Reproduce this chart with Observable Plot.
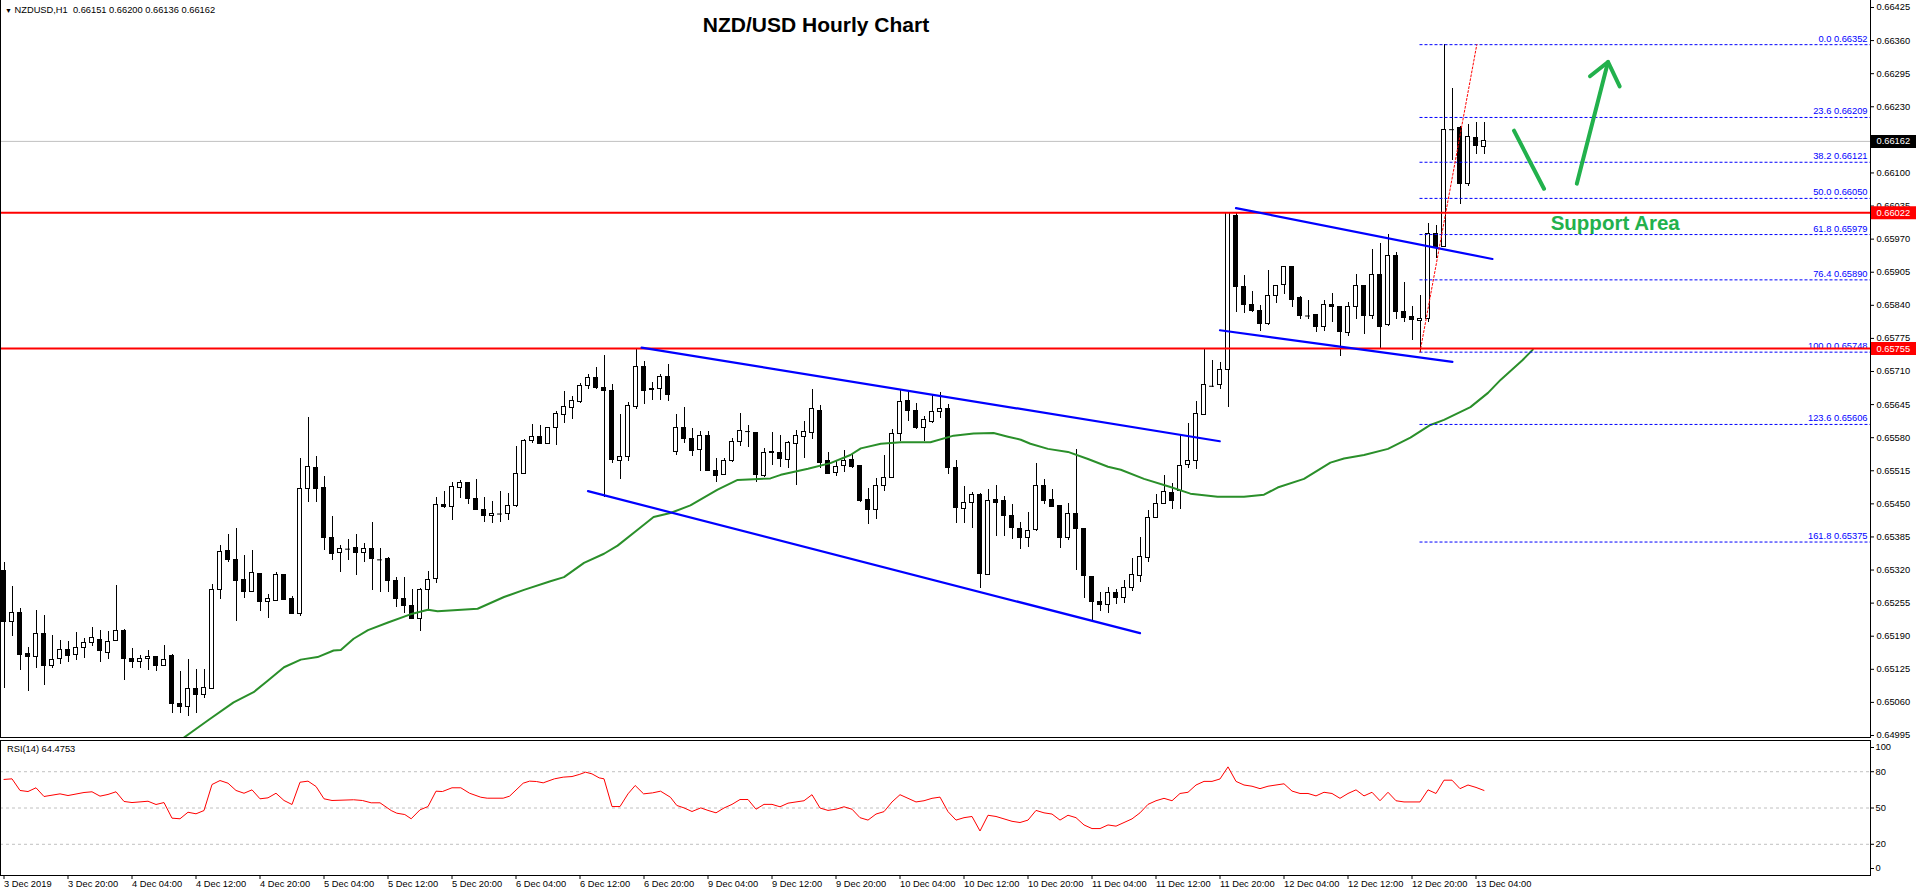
<!DOCTYPE html>
<html><head><meta charset="utf-8">
<script src="https://cdn.jsdelivr.net/npm/d3@7"></script>
<script src="https://cdn.jsdelivr.net/npm/@observablehq/plot@0.6"></script>
<style>
body{margin:0;background:#fff;font-family:"Liberation Sans",Arial,sans-serif;}
#wrap{position:relative;width:1916px;height:896px;overflow:hidden;background:#fff;}
.abs{position:absolute;}
#mainFrame{left:0;top:0;width:1871px;height:738px;box-sizing:border-box;border-left:1px solid #000;border-right:1px solid #000;border-bottom:1px solid #000;pointer-events:none;}
#header{left:5px;top:5px;font-size:9.3px;color:#000;white-space:pre;}
#title{left:0;width:1632px;top:14px;text-align:center;font-size:21px;font-weight:bold;line-height:21px;color:#000;}
#rsiLabel{left:7px;top:744px;font-size:9.3px;color:#000;}
</style></head><body>
<div id="wrap">
  <div id="mainPlot" class="abs" style="left:0;top:0"></div>
  <div id="rsiPlot" class="abs" style="left:0;top:737px"></div>
  <div id="mainFrame" class="abs"></div>
  <div id="header" class="abs"><span style="font-size:7px">▼</span> NZDUSD,H1  0.66151 0.66200 0.66136 0.66162</div>
  <div id="title" class="abs">NZD/USD Hourly Chart</div>
  <div id="rsiLabel" class="abs">RSI(14) 64.4753</div>
</div>
<script>
// ---------- candle data (hourly bars, index 0 = 3 Dec 2019 12:00) ----------
const openP = [
0.65319,0.65218,0.65236,0.65155,0.65149,0.65195,0.65132,0.65145,0.65162,0.65153,
0.65166,0.65176,0.65183,0.65157,0.65181,0.65201,0.65146,0.65139,0.65145,0.65150,
0.65132,0.65152,0.65057,0.65051,0.65087,0.65075,0.65087,0.65281,0.65358,0.65340,
0.65301,0.65276,0.65313,0.65257,0.65260,0.65311,0.65264,0.65234,0.65480,0.65521,
0.65482,0.65383,0.65353,0.65361,0.65364,0.65353,0.65362,0.65340,0.65341,0.65299,
0.65264,0.65249,0.65224,0.65280,0.65302,0.65448,0.65443,0.65482,0.65491,0.65460,
0.65438,0.65426,0.65430,0.65430,0.65445,0.65509,0.65573,0.65582,0.65568,0.65599,
0.65625,0.65638,0.65650,0.65682,0.65698,0.65678,0.65672,0.65535,0.65542,0.65640,
0.65719,0.65676,0.65676,0.65700,0.65552,0.65599,0.65578,0.65556,0.65584,0.65515,
0.65507,0.65534,0.65571,0.65592,0.65590,0.65504,0.65552,0.65550,0.65537,0.65568,
0.65581,0.65590,0.65633,0.65535,0.65510,0.65524,0.65537,0.65525,0.65458,0.65438,
0.65485,0.65500,0.65587,0.65653,0.65633,0.65599,0.65610,0.65631,0.65637,0.65521,
0.65440,0.65452,0.65467,0.65311,0.65458,0.65456,0.65427,0.65401,0.65383,0.65398,
0.65486,0.65457,0.65445,0.65383,0.65430,0.65401,0.65307,0.65258,0.65251,0.65275,
0.65266,0.65285,0.65308,0.65344,0.65422,0.65450,0.65471,0.65475,0.65526,0.65534,
0.65624,0.65681,0.65684,0.65713,0.66015,0.65876,0.65841,0.65829,0.65803,0.65859,
0.65880,0.65915,0.65855,0.65819,0.65820,0.65798,0.65841,0.65836,0.65786,0.65836,
0.65878,0.65819,0.65900,0.65801,0.65936,0.65827,0.65817,0.65809,0.65813,0.65981,
0.65955,0.66185,0.66188,0.66078,0.66168,0.66151];
const highP = [
0.65334,0.65288,0.65244,0.65167,0.65241,0.65231,0.65191,0.65182,0.65180,0.65197,
0.65185,0.65207,0.65201,0.65199,0.65290,0.65203,0.65165,0.65152,0.65162,0.65151,
0.65171,0.65154,0.65121,0.65144,0.65124,0.65124,0.65291,0.65368,0.65390,0.65401,
0.65349,0.65358,0.65314,0.65271,0.65316,0.65311,0.65268,0.65540,0.65619,0.65543,
0.65504,0.65425,0.65368,0.65380,0.65390,0.65372,0.65413,0.65362,0.65345,0.65305,
0.65305,0.65281,0.65283,0.65317,0.65462,0.65474,0.65491,0.65495,0.65491,0.65498,
0.65462,0.65454,0.65474,0.65470,0.65563,0.65576,0.65606,0.65603,0.65599,0.65631,
0.65671,0.65661,0.65686,0.65705,0.65718,0.65741,0.65684,0.65626,0.65649,0.65755,
0.65730,0.65688,0.65704,0.65724,0.65626,0.65639,0.65599,0.65592,0.65592,0.65539,
0.65539,0.65578,0.65627,0.65604,0.65590,0.65558,0.65590,0.65584,0.65573,0.65595,
0.65612,0.65674,0.65643,0.65550,0.65534,0.65555,0.65546,0.65525,0.65480,0.65499,
0.65545,0.65596,0.65673,0.65673,0.65647,0.65622,0.65662,0.65668,0.65645,0.65535,
0.65484,0.65472,0.65470,0.65478,0.65486,0.65464,0.65449,0.65414,0.65434,0.65529,
0.65497,0.65478,0.65445,0.65450,0.65557,0.65401,0.65307,0.65276,0.65286,0.65281,
0.65300,0.65343,0.65384,0.65436,0.65468,0.65506,0.65490,0.65587,0.65608,0.65652,
0.65755,0.65731,0.65727,0.66022,0.66022,0.65899,0.65868,0.65840,0.65908,0.65878,
0.65916,0.65915,0.65857,0.65849,0.65820,0.65849,0.65864,0.65836,0.65845,0.65901,
0.65878,0.65950,0.65961,0.65980,0.65944,0.65884,0.65838,0.65859,0.66001,0.65997,
0.66352,0.66266,0.66192,0.66195,0.66199,0.66200];
const lowP = [
0.65087,0.65189,0.65123,0.65081,0.65127,0.65093,0.65127,0.65134,0.65139,0.65142,
0.65147,0.65170,0.65139,0.65145,0.65180,0.65103,0.65127,0.65127,0.65123,0.65121,
0.65132,0.65039,0.65039,0.65032,0.65039,0.65067,0.65087,0.65262,0.65335,0.65218,
0.65265,0.65276,0.65239,0.65225,0.65259,0.65261,0.65233,0.65229,0.65453,0.65453,
0.65358,0.65339,0.65316,0.65339,0.65309,0.65335,0.65280,0.65275,0.65276,0.65247,
0.65234,0.65224,0.65200,0.65242,0.65293,0.65440,0.65417,0.65461,0.65448,0.65438,
0.65414,0.65411,0.65414,0.65417,0.65443,0.65509,0.65569,0.65567,0.65568,0.65565,
0.65608,0.65616,0.65648,0.65675,0.65674,0.65462,0.65530,0.65498,0.65534,0.65635,
0.65646,0.65653,0.65653,0.65652,0.65545,0.65568,0.65543,0.65514,0.65514,0.65491,
0.65506,0.65532,0.65563,0.65560,0.65491,0.65502,0.65525,0.65522,0.65519,0.65486,
0.65540,0.65576,0.65519,0.65508,0.65504,0.65512,0.65520,0.65453,0.65410,0.65420,
0.65474,0.65500,0.65572,0.65612,0.65597,0.65572,0.65608,0.65618,0.65508,0.65412,
0.65412,0.65402,0.65283,0.65309,0.65385,0.65385,0.65380,0.65361,0.65365,0.65396,
0.65449,0.65443,0.65363,0.65379,0.65319,0.65265,0.65220,0.65239,0.65235,0.65252,
0.65255,0.65278,0.65296,0.65335,0.65422,0.65450,0.65438,0.65438,0.65520,0.65517,
0.65624,0.65678,0.65675,0.65640,0.65826,0.65824,0.65826,0.65789,0.65801,0.65843,
0.65862,0.65836,0.65812,0.65812,0.65787,0.65789,0.65806,0.65740,0.65779,0.65813,
0.65783,0.65813,0.65755,0.65799,0.65813,0.65806,0.65771,0.65748,0.65806,0.65931,
0.65955,0.66124,0.66038,0.66073,0.66137,0.66136];
const closeP = [
0.65218,0.65236,0.65154,0.65149,0.65195,0.65131,0.65144,0.65163,0.65152,0.65167,
0.65177,0.65187,0.65161,0.65178,0.65201,0.65145,0.65139,0.65146,0.65150,0.65132,
0.65144,0.65056,0.65051,0.65087,0.65074,0.65089,0.65281,0.65355,0.65339,0.65298,
0.65276,0.65315,0.65257,0.65264,0.65311,0.65262,0.65234,0.65480,0.65523,0.65479,
0.65383,0.65351,0.65362,0.65361,0.65353,0.65362,0.65341,0.65340,0.65298,0.65263,
0.65249,0.65224,0.65281,0.65301,0.65448,0.65443,0.65484,0.65491,0.65459,0.65438,
0.65426,0.65430,0.65430,0.65446,0.65509,0.65574,0.65582,0.65568,0.65599,0.65627,
0.65641,0.65652,0.65682,0.65698,0.65677,0.65671,0.65537,0.65542,0.65643,0.65719,
0.65671,0.65674,0.65700,0.65663,0.65599,0.65577,0.65553,0.65584,0.65514,0.65504,
0.65535,0.65572,0.65594,0.65592,0.65506,0.65550,0.65550,0.65539,0.65570,0.65584,
0.65592,0.65637,0.65531,0.65508,0.65523,0.65535,0.65523,0.65455,0.65437,0.65485,
0.65501,0.65588,0.65651,0.65633,0.65599,0.65614,0.65631,0.65637,0.65520,0.65441,
0.65452,0.65468,0.65312,0.65456,0.65451,0.65426,0.65402,0.65383,0.65397,0.65486,
0.65455,0.65443,0.65383,0.65430,0.65400,0.65308,0.65257,0.65251,0.65275,0.65265,
0.65285,0.65310,0.65345,0.65422,0.65450,0.65473,0.65455,0.65525,0.65534,0.65626,
0.65684,0.65681,0.65713,0.66022,0.65876,0.65841,0.65829,0.65803,0.65859,0.65878,
0.65915,0.65850,0.65819,0.65819,0.65798,0.65841,0.65836,0.65787,0.65836,0.65878,
0.65819,0.65899,0.65798,0.65936,0.65826,0.65816,0.65812,0.65814,0.65981,0.65952,
0.66185,0.66185,0.66079,0.66171,0.66153,0.66162];

// ---------- moving average (green): bar index / price ----------
const maIdx = [22.5,25.6,28.7,31.2,33.0,35.0,37.1,39.2,41.2,42.1,43.7,45.5,48.0,50.8,53.0,54.2,56.2,59.2,62.5,65.0,68.3,70.0,72.5,75.0,76.7,79.2,81.2,83.3,85.8,89.2,91.7,95.8,97.1,100.5,103.3,105.8,107.1,109.6,112.1,115.8,118.7,121.2,123.7,125.5,127.1,128.3,130.5,133.0,135.5,138.0,139.6,142.5,145.8,148.3,151.7,155.0,157.5,159.2,162.5,165.8,167.5,170.0,173.0,175.8,178.3,180.0,183.3,185.5,187.1,189.8,191.1];
const maVal = [0.64991,0.65026,0.65060,0.65080,0.65103,0.65129,0.65144,0.65149,0.65162,0.65163,0.65185,0.65202,0.65217,0.65233,0.65242,0.65239,0.65241,0.65244,0.65267,0.65281,0.65298,0.65306,0.65334,0.65352,0.65368,0.65399,0.65424,0.65432,0.65447,0.65478,0.65497,0.65500,0.65507,0.65519,0.65530,0.65546,0.65559,0.65568,0.65571,0.65571,0.65584,0.65588,0.65589,0.65582,0.65576,0.65568,0.65558,0.65552,0.65538,0.65523,0.65517,0.65499,0.65483,0.65470,0.65464,0.65464,0.65468,0.65482,0.65499,0.65531,0.65539,0.65546,0.65558,0.65580,0.65605,0.65615,0.65640,0.65668,0.65694,0.65732,0.65753];

// ---------- RSI(14) ----------
const rsiIdx = [0,1,2,3,4,5,7,8,10,11,12,13,14,15,16,18,19,20,21,22,23,24,25,26,27,28,29,30,31,32,33,34,35,36,37,38,39,40,41,43.7,44.8,45.9,47,48.4,49.1,50.1,50.9,52,53,54,54.8,56,57.1,58.2,59.6,60.4,62.4,63.2,64.9,65.7,66.55,67.4,68.8,69.9,71,71.9,72.7,73.5,74.4,75,76,77,78,78.9,79.95,81.06,82.07,83.3,84.1,85,86,87.1,
88,89,90,91,92,93,94,95,96,97,98,99,100,101,102,103,104,105,106,107,108,109,110,111,112,113,114,115,116,117,118,119,120,121,122,123,124,125,126,127,128,129,130,131,132,133,134,135,136,137,138,139,140,141,142,143,144,145,146,147,148,149,150,151,152,153,154,155,156,157,158,159,160,161,162,163,164,165,166,167,168,169,170,171,172,173,174,175,176,177,178,179,180,181,182,183,184,185];
const rsiVal = [73.6,74.1,64.5,63.6,66.7,59.5,61.7,60.3,62.8,63.4,59.8,61.2,63.4,55.4,54.5,55.6,52.9,54.5,41.6,41.1,46.5,45.2,47.9,69.4,72.7,70.5,64.5,62.2,65.0,57.6,58.4,62.2,56.2,52.9,71.3,72.2,67.8,57.6,56.2,56.8,56.2,54.3,54.3,47.9,45.7,44.6,41.1,48.5,51.2,63.9,63.6,66.7,66.7,62.2,58.9,58.1,58.1,59.8,70.5,72.2,71.9,70.8,74.1,75.5,76.0,77.7,79.6,78.2,74.9,74.1,51.2,51.2,61.7,68.6,61.7,62.5,63.9,58.9,52.1,50.1,47.1,50.1,
48,46,50,53,57,57,49,53,53,51,54,55,56,61,50,48,49,51,49,42,40,45,47,55,61,58,55,56,58,59,47,40,42,43,31,44,43,41,39,38,40,48,46,45,40,44,42,36,33,33,36,35,38,41,46,53,56,58,56,62,63,69,72,72,74,84,72,69,68,66,68,69,70,64,62,62,60,63,62,58,62,65,60,63,56,63,56,55,55,55,65,62,73,73,66,69,67,64.5];
const rsiLevels = [20, 50, 80];
const rsiTicks = [0, 20, 50, 80, 100];

// ---------- axes ----------
const priceTicks = [0.66425,0.66360,0.66295,0.66230,0.66165,0.66100,0.66035,0.65970,0.65905,0.65840,0.65775,0.65710,0.65645,0.65580,0.65515,0.65450,0.65385,0.65320,0.65255,0.65190,0.65125,0.65060,0.64995];
const timeTickIdx = [0,8,16,24,32,40,48,56,64,72,80,88,96,104,112,120,128,136,144,152,160,168,176,184];
const timeTickLabels = ["3 Dec 2019","3 Dec 20:00","4 Dec 04:00","4 Dec 12:00","4 Dec 20:00","5 Dec 04:00","5 Dec 12:00","5 Dec 20:00","6 Dec 04:00","6 Dec 12:00","6 Dec 20:00","9 Dec 04:00","9 Dec 12:00","9 Dec 20:00","10 Dec 04:00","10 Dec 12:00","10 Dec 20:00","11 Dec 04:00","11 Dec 12:00","11 Dec 20:00","12 Dec 04:00","12 Dec 12:00","12 Dec 20:00","13 Dec 04:00"];

// ---------- drawn objects ----------
const bidPrice = 0.66162;
const hLevels = [0.66022, 0.65755];
const fibPct = [0.0, 23.6, 38.2, 50.0, 61.8, 76.4, 100.0, 123.6, 161.8];
const fibVal = [0.66352, 0.66209, 0.66121, 0.66050, 0.65979, 0.65890, 0.65748, 0.65606, 0.65375];
const fibStartIdx = 177;
const fibDiagIdx = [177, 184.1];
const fibDiagVal = [0.65748, 0.66352];
const trendNames = ["chanUp","chanUp","chanLow","chanLow","flagUp","flagUp","flagLow","flagLow"];
const trendIdx = [79.7, 151.97, 73.0, 142.0, 154.0, 186.05, 152.0, 181.05];
const trendVal = [0.65757, 0.65573, 0.65475, 0.65196, 0.66031, 0.65931, 0.65791, 0.65729];
const arrowNames = ["down","down","up","up","head","head","head"];
const arrowIdx = [188.75, 192.5, 196.6, 200.5, 198.25, 200.5, 201.96];
const arrowVal = [0.66183, 0.66069, 0.66079, 0.66318, 0.66290, 0.66318, 0.66270];
const supportText = [{i: 201.4, p: 0.66000, text: "Support Area"}];
const priceBoxes = [{v: 0.66162, color: "#000000"}, {v: 0.66022, color: "#ff0000"}, {v: 0.65755, color: "#ff0000"}];

// ---------- build ----------
const xDomain = [-0.4375, 233.3125];
const yDomain = [0.6499105, 0.6643875];
const candles = openP.map((o, i) => ({i, open: o, high: highP[i], low: lowP[i], close: closeP[i]}));
const bodies = candles.filter(d => Math.abs(d.close - d.open) >= 0.00002);
const dojis = candles.filter(d => Math.abs(d.close - d.open) < 0.00002);
const ma = maIdx.map((x, k) => ({x, y: maVal[k]}));
const rsi = rsiIdx.map((x, k) => ({x, y: rsiVal[k]}));
const fib = fibPct.map((p, k) => ({pct: p, v: fibVal[k]}));
const fibDiag = fibDiagIdx.map((x, k) => ({x, y: fibDiagVal[k]}));
const trends = trendIdx.map((x, k) => ({x, y: trendVal[k], id: trendNames[k]}));
const arrows = arrowIdx.map((x, k) => ({x, y: arrowVal[k], id: arrowNames[k]}));
const tickLabel = new Map(timeTickIdx.map((t, k) => [t, timeTickLabels[k]]));

const font = "'Liberation Sans', Arial, sans-serif";
const green = "#22b14c";

const mainChart = Plot.plot({
  width: 1916, height: 745,
  marginLeft: 0, marginRight: 46, marginTop: 0, marginBottom: 8,
  x: {domain: xDomain, axis: null, label: null},
  y: {domain: yDomain, axis: null, label: null},
  color: {type: "identity"},
  style: {fontFamily: font, fontSize: "9.3px", color: "#000", background: "transparent", overflow: "visible"},
  marks: [
    Plot.ruleY([bidPrice], {stroke: "#c0c0c0", strokeWidth: 1}),
    Plot.ruleX(candles, {x: "i", y1: "low", y2: "high", stroke: "#000", strokeWidth: 1, shapeRendering: "crispEdges"}),
    Plot.rect(bodies, {x1: d => d.i - 0.25, x2: d => d.i + 0.25, y1: "open", y2: "close",
      fill: d => d.close > d.open ? "#ffffff" : "#000000", stroke: "#000", strokeWidth: 1, shapeRendering: "crispEdges"}),
    Plot.ruleY(dojis, {y: "close", x1: d => d.i - 0.3, x2: d => d.i + 0.3, stroke: "#000", strokeWidth: 1}),
    Plot.line(ma, {x: "x", y: "y", stroke: "#2a8f2a", strokeWidth: 2, clip: true}),
    Plot.ruleY(fib, {y: "v", x1: fibStartIdx, x2: xDomain[1], stroke: "#0000ff", strokeWidth: 1, strokeDasharray: "3,2"}),
    Plot.text(fib, {y: "v", text: d => `${d.pct.toFixed(1)} ${d.v.toFixed(5)}`, frameAnchor: "right", textAnchor: "end", dx: -3, dy: -6, fill: "#0000ff"}),
    Plot.ruleY(hLevels, {stroke: "#ff0000", strokeWidth: 2}),
    Plot.line(trends, {x: "x", y: "y", z: "id", stroke: "#0000ff", strokeWidth: 2.2}),
    Plot.line(fibDiag, {x: "x", y: "y", stroke: "#ff0000", strokeWidth: 1, strokeDasharray: "2,2"}),
    Plot.line(arrows, {x: "x", y: "y", z: "id", stroke: green, strokeWidth: 4, strokeLinecap: "round", strokeLinejoin: "round"}),
    Plot.text(supportText, {x: "i", y: "p", text: "text", fill: green, fontSize: 20.5, fontWeight: "bold"}),
    Plot.axisY(priceTicks, {anchor: "right", tickSize: 3, tickPadding: 3, tickFormat: d => d.toFixed(5), label: null, fill: "#000"}),
    Plot.ruleY(priceBoxes, {y: "v", stroke: "color", strokeWidth: 13, insetLeft: 1871, insetRight: -46}),
    Plot.text(priceBoxes, {y: "v", text: d => d.v.toFixed(5), frameAnchor: "right", textAnchor: "start", dx: 6, fill: "#ffffff"})
  ]
});
document.getElementById("mainPlot").appendChild(mainChart);

const rsiChart = Plot.plot({
  width: 1916, height: 159,
  marginLeft: 0, marginRight: 46, marginTop: 3, marginBottom: 21,
  x: {domain: xDomain, axis: null, label: null},
  y: {domain: [-5.79, 105.79], axis: null, label: null},
  style: {fontFamily: font, fontSize: "9.3px", color: "#000", background: "transparent", overflow: "visible"},
  marks: [
    Plot.ruleY(rsiLevels, {stroke: "#c0c0c0", strokeWidth: 1, strokeDasharray: "3,3"}),
    Plot.line(rsi, {x: "x", y: "y", stroke: "#ff0000", strokeWidth: 1}),
    Plot.frame({stroke: "#000"}),
    Plot.axisY(rsiTicks, {anchor: "right", tickSize: 3, tickPadding: 2, label: null}),
    Plot.axisX(timeTickIdx, {anchor: "bottom", tickSize: 4, tickPadding: 1, textAnchor: "start", dx: 0, label: null, tickFormat: d => tickLabel.get(d)})
  ]
});
document.getElementById("rsiPlot").appendChild(rsiChart);
</script>
</body></html>
